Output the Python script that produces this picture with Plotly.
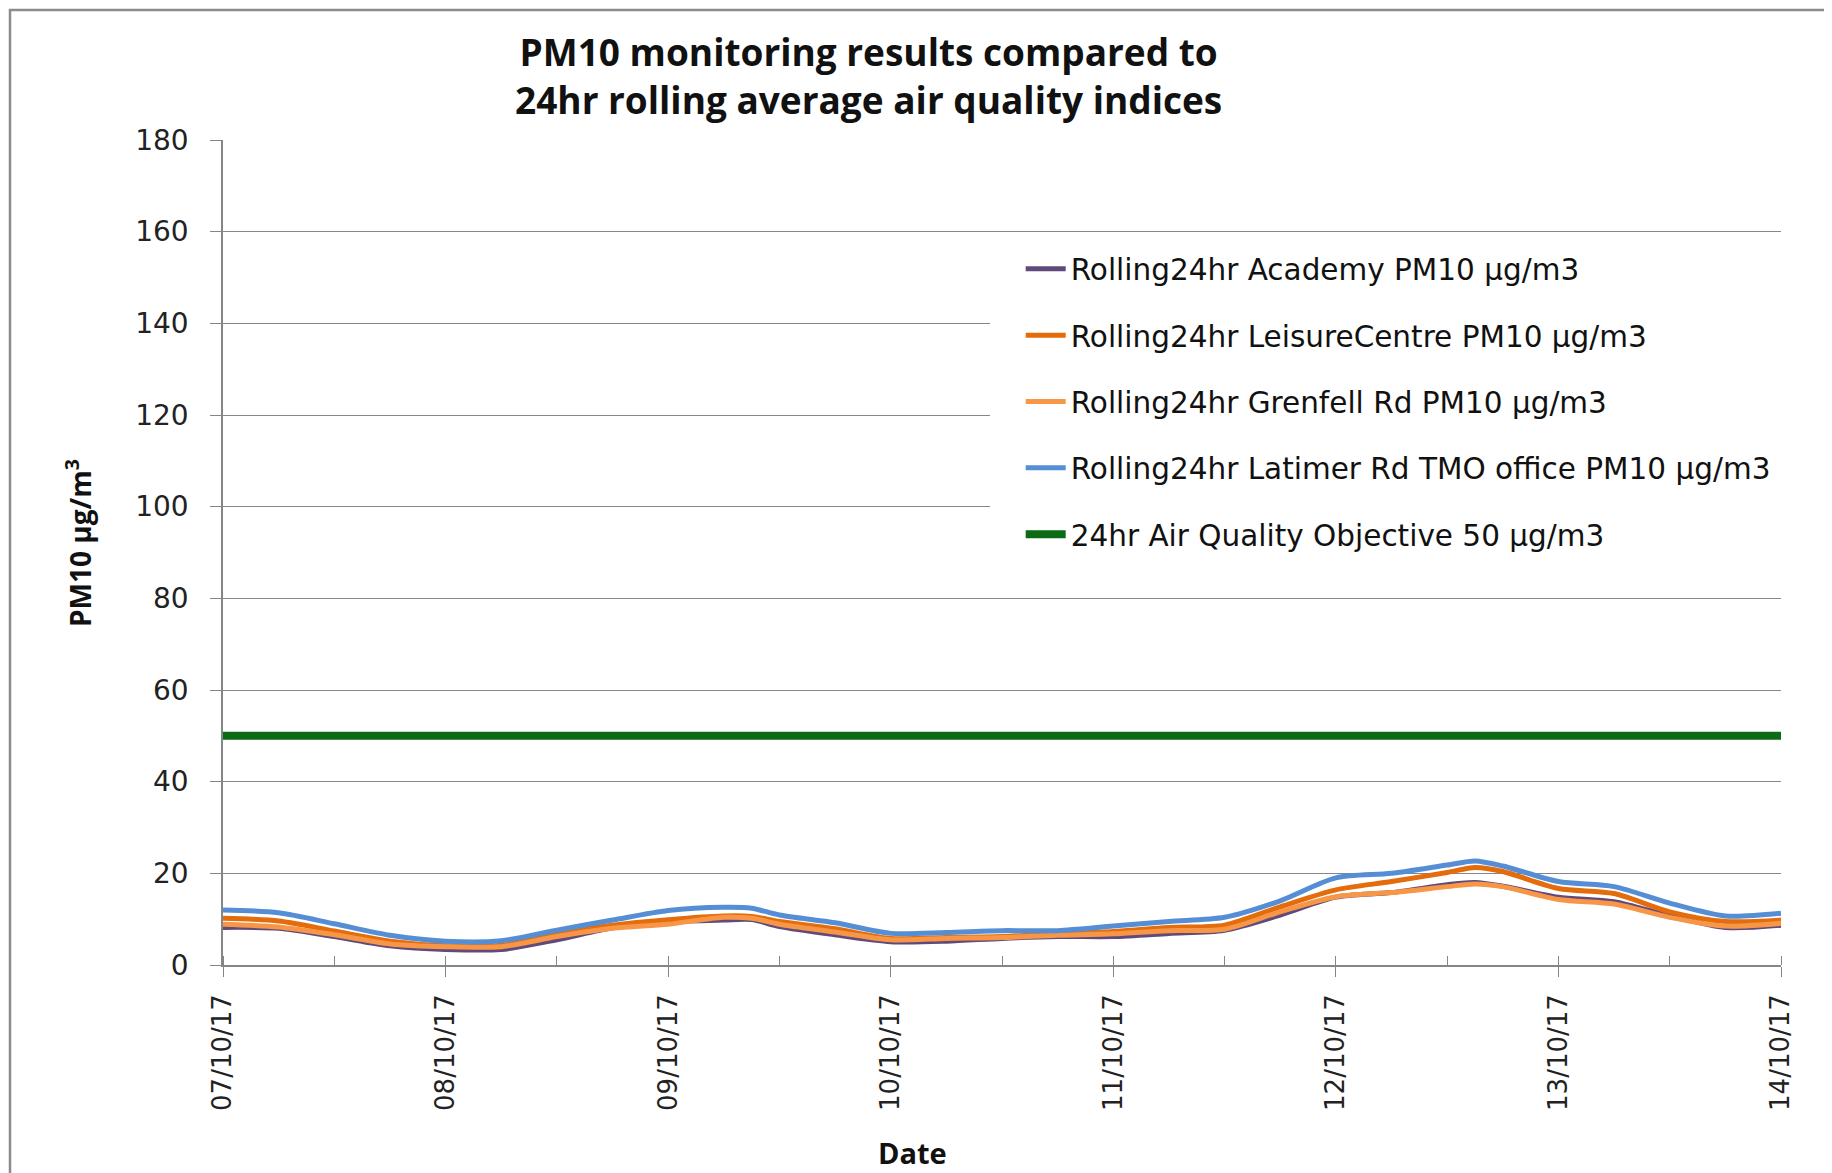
import pandas as pd
import plotly.graph_objects as go

# hours after 07/10/17 00:00
hours = [0, 6, 12, 18, 24, 30, 36, 42, 48, 54, 57, 60, 66, 72, 78, 84, 90, 96,
         102, 108, 114, 120, 126, 132, 135, 138, 144, 150, 156, 162, 168]

academy = [8.2, 8.0, 6.2, 4.2, 3.4, 3.4, 5.5, 8.1, 9.4, 9.8, 9.9, 8.4, 6.6, 5.1, 5.2, 5.8,
           6.2, 6.2, 6.9, 7.6, 10.9, 14.8, 15.8, 17.5, 18.0, 17.2, 14.8, 13.8, 10.7, 8.2, 8.7]
leisure = [10.2, 9.6, 7.4, 5.2, 4.2, 4.3, 6.8, 8.7, 9.9, 10.7, 10.6, 9.5, 7.9, 5.8, 6.0, 6.2,
           6.8, 7.3, 8.2, 8.7, 12.7, 16.4, 18.2, 20.2, 21.3, 20.4, 16.7, 15.6, 11.6, 9.5, 9.8]
grenfell = [8.9, 8.3, 6.6, 4.6, 4.0, 4.0, 6.2, 8.0, 8.9, 10.4, 10.2, 8.9, 7.2, 5.5, 5.8, 6.0,
            6.5, 6.8, 7.5, 7.8, 11.6, 14.9, 15.8, 17.1, 17.7, 17.1, 14.3, 13.3, 10.4, 8.5, 9.1]
latimer = [12.0, 11.4, 9.0, 6.5, 5.2, 5.3, 7.6, 9.8, 11.9, 12.6, 12.4, 10.9, 9.2, 6.9, 7.1, 7.5,
           7.5, 8.5, 9.5, 10.4, 14.0, 19.0, 20.0, 21.8, 22.7, 21.6, 18.2, 17.1, 13.5, 10.7, 11.3]
objective = 50

names = ["Rolling24hr Academy PM10 µg/m3",
         "Rolling24hr LeisureCentre PM10 µg/m3",
         "Rolling24hr Grenfell Rd PM10 µg/m3",
         "Rolling24hr Latimer Rd TMO office PM10 µg/m3",
         "24hr Air Quality Objective 50 µg/m3"]
colors = ["#604A7B", "#E46C0A", "#F79646", "#558ED5", "#0C6A14"]

start = pd.Timestamp("2017-10-07")
times = [start + pd.Timedelta(hours=h) for h in hours]

fig = go.Figure()
series = [academy, leisure, grenfell, latimer]
for i, s in enumerate(series):
    fig.add_trace(go.Scatter(x=times, y=s, mode="lines", name=names[i],
                             legendgroup=str(i),
                             line=dict(color=colors[i], width=5, shape="spline", smoothing=0.8)))
fig.add_trace(go.Scatter(x=times, y=[objective] * len(times), mode="lines", name=names[4],
                         legendgroup="4", line=dict(color=colors[4], width=8)))

tickfont = dict(family="DejaVu Sans", size=28, color="#222222")
xtickfont = dict(family="DejaVu Sans", size=26, color="#222222")

# plot area in screen pixels: x 223..1781, y 140..965 (page body has an 8px margin)
fig.update_layout(
    width=1824, height=1165,
    margin=dict(l=215, r=51, t=132, b=208),
    paper_bgcolor="white", plot_bgcolor="white",
    font=dict(family="DejaVu Sans", color="#000000"),
    showlegend=True,
    legend=dict(x=0.512, y=0.875, xanchor="left", yanchor="top",
                bgcolor="rgba(0,0,0,0)", font=dict(family="DejaVu Sans", size=29.5, color="#111111"),
                tracegroupgap=25, itemwidth=40),
    xaxis=dict(range=[times[0], times[-1]], type="date", dtick=86400000, tickformat="%d/%m/%y",
               tickangle=-90, tickfont=xtickfont, showgrid=False, showline=True,
               linecolor="#868686", linewidth=1.5, ticks="outside", ticklen=10, tickcolor="#868686",
               ticklabelstandoff=7,
               minor=dict(dtick=43200000, ticks="inside", ticklen=9, tickcolor="#868686")),
    yaxis=dict(range=[0, 180], dtick=20, tickfont=tickfont, showgrid=True, gridcolor="#868686",
               gridwidth=1, showline=True, linecolor="#868686", linewidth=1.5, ticks="outside",
               ticklen=11, tickcolor="#868686", ticklabelstandoff=16, zeroline=False),
    annotations=[
        dict(text="<b>PM10 monitoring results compared to<br>24hr rolling average air quality indices</b>",
             xref="paper", yref="paper", x=(868 - 223) / 1558, y=(965 - 76) / 825,
             xanchor="center", yanchor="middle", showarrow=False, align="center",
             font=dict(family="Open Sans", size=37, color="#111111")),
        dict(text="<b>PM10 µg/m<sup>3</sup></b>", xref="paper", yref="paper",
             x=(78 - 223) / 1558, y=(965 - 543) / 825, textangle=-90, showarrow=False,
             xanchor="center", yanchor="middle", font=dict(family="Open Sans", size=28, color="#111111")),
        dict(text="<b>Date</b>", xref="paper", yref="paper", x=(912 - 223) / 1558,
             y=(965 - 1152) / 825, showarrow=False, xanchor="center", yanchor="middle",
             font=dict(family="Open Sans", size=29, color="#111111")),
    ],
    shapes=[
        # white box behind the legend, hiding the gridlines
        dict(type="rect", xref="paper", yref="paper", layer="above",
             x0=(990 - 223) / 1558, x1=(1781 - 223) / 1558,
             y0=(965 - 572) / 825, y1=(965 - 240) / 825,
             fillcolor="white", line=dict(width=0)),
        # chart frame
        dict(type="rect", xref="paper", yref="paper", layer="above",
             x0=(10 - 223) / 1558, x1=1.2, y0=-0.5, y1=(965 - 10) / 825,
             line=dict(color="#8C8C8C", width=2.5), fillcolor="rgba(0,0,0,0)"),
    ],
)

fig.write_html("out.html")
